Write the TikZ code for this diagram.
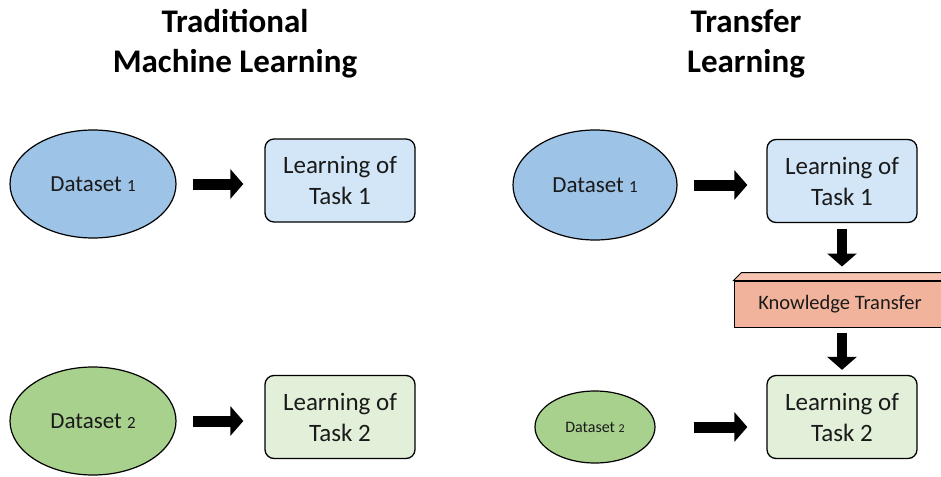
\documentclass[tikz,border=0pt]{standalone}
\usepackage{fontspec}
\setmainfont{Carlito}
\usetikzlibrary{arrows.meta,shapes.geometric}
\definecolor{dsblue}{HTML}{9DC3E6}
\definecolor{tkblue}{HTML}{D2E6F7}
\definecolor{dsgreen}{HTML}{A9D18E}
\definecolor{tkgreen}{HTML}{E2F0D9}
\definecolor{ktfront}{HTML}{F2B39C}
\definecolor{kttop}{HTML}{F5C3AF}
\definecolor{txt}{HTML}{1A1A1A}
\begin{document}
\begin{tikzpicture}[x=1pt,y=-1pt,
  title/.style={align=center,inner sep=0pt,font=\fontsize{33}{40}\selectfont\bfseries},
  dataset/.style={ellipse,draw=black,line width=1.2pt,inner sep=0pt,text=txt},
  taskbox/.style={draw=black,line width=1.3pt,rounded corners=9pt,minimum width=150pt,minimum height=83pt,inner sep=0pt,align=center,text=txt,font=\fontsize{25}{31}\selectfont},
  bigarrow/.style={line width=11pt,-{Triangle[width=29pt,length=13pt]}},
  ktbox/.style={draw=black,line width=1pt,fill=ktfront,minimum width=212pt,minimum height=46pt,inner sep=0pt,text=txt,font=\fontsize{20.5}{24}\selectfont}
]
\useasboundingbox (0,0) rectangle (941,476);
\fill[white] (0,0) rectangle (941,476);

% titles
\node[title] (tl) at (235,44) {Traditional\\Machine Learning};
\node[title] (tr) at (746,44) {Transfer\\Learning};

% left column
\node[dataset,fill=dsblue,minimum width=166pt,minimum height=108pt] (ld1) at (93,184)
  {\fontsize{23}{26}\selectfont Dataset {\fontsize{17}{20}\selectfont 1}};
\node[taskbox,fill=tkblue] (lt1) at (340,180.5) {Learning of\\Task 1};
\node[dataset,fill=dsgreen,minimum width=166pt,minimum height=108pt] (ld2) at (93,421)
  {\fontsize{23}{26}\selectfont Dataset {\fontsize{17}{20}\selectfont 2}};
\node[taskbox,fill=tkgreen] (lt2) at (340,417) {Learning of\\Task 2};

\draw[bigarrow,shorten <=16pt,shorten >=21pt] (ld1.east) -- (ld1.east -| lt1.west);
\draw[bigarrow,shorten <=16pt,shorten >=21pt] (ld2.east) -- (ld2.east -| lt2.west);

% right column
\node[dataset,fill=dsblue,minimum width=164pt,minimum height=110pt] (rd1) at (595,185)
  {\fontsize{23}{26}\selectfont Dataset {\fontsize{17}{20}\selectfont 1}};
\node[taskbox,fill=tkblue] (rt1) at (842,181) {Learning of\\Task 1};
\node[ktbox] (kt) at (840,304) {Knowledge Transfer};
\fill[kttop,draw=black,line width=1pt] (kt.north west) -- ++(8,-8) -- ([xshift=8pt,yshift=8pt]kt.north east) -- (kt.north east) -- cycle;
\node[dataset,fill=dsgreen,minimum width=120pt,minimum height=72pt] (rd2) at (595,427)
  {\fontsize{16}{19}\selectfont Dataset {\fontsize{12}{14}\selectfont 2}};
\node[taskbox,fill=tkgreen] (rt2) at (842,417) {Learning of\\Task 2};

\draw[bigarrow,shorten <=16pt,shorten >=19pt] (rd1.east) -- (rd1.east -| rt1.west);
\draw[bigarrow,shorten <=38pt,shorten >=19pt] (rd2.east) -- (rd2.east -| rt2.west);
\draw[bigarrow,line width=10pt,shorten <=6pt,shorten >=14pt] (rt1.south) -- (rt1.south |- kt.north);
\draw[bigarrow,line width=10pt,shorten <=5pt,shorten >=5pt] (rt1.south |- kt.south) -- (rt2.north);
\end{tikzpicture}
\end{document}
